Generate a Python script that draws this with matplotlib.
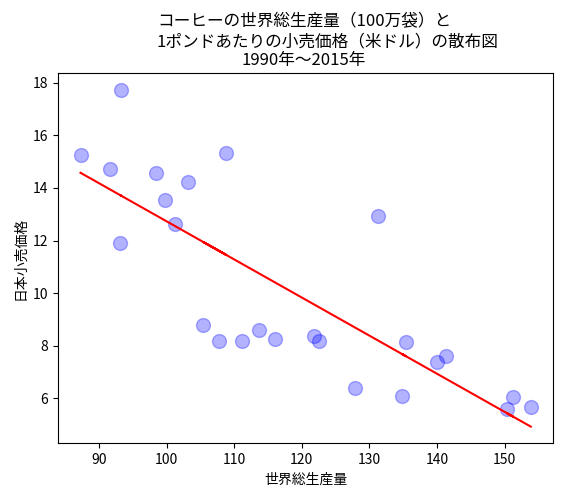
import numpy as np
import matplotlib
matplotlib.use("Agg")
import matplotlib.pyplot as plt

plt.rcParams['font.family'] = ['Noto Sans CJK JP', 'DejaVu Sans']

# world production (million bags) vs Japan retail price per pound (USD)
production = [87.28, 91.71, 93.29, 93.19, 98.51, 99.84, 101.31, 103.23, 108.85,
              105.45, 107.81, 111.17, 113.72, 116.09, 121.85, 122.59, 127.86,
              131.26, 135.39, 134.85, 140.02, 141.30, 151.24, 150.36, 153.86]
price = [15.25, 14.73, 17.72, 11.90, 14.56, 13.55, 12.63, 14.22, 15.34,
         8.77, 8.16, 8.16, 8.61, 8.24, 8.35, 8.18, 6.40,
         12.94, 8.13, 6.09, 7.36, 7.59, 6.05, 5.60, 5.67]

title_lines = ["コーヒーの世界総生産量（100万袋）と",
               "1ポンドあたりの小売価格（米ドル）の散布図",
               "1990年～2015年"]

x = np.array(production)
y = np.array(price)

fig = plt.figure(figsize=(5.62, 4.96), dpi=100)
ax = fig.add_axes([0.1032, 0.106, 0.8813, 0.746])

ax.scatter(x, y, s=100, c='blue', alpha=0.3)
fit = np.poly1d(np.polyfit(x, y, 1))
ax.plot(x, fit(x), color='red')

ax.set_xlabel("世界総生産量")
ax.set_ylabel("日本小売価格")

fig.text(157 / 562, 0.9476, title_lines[0], fontsize=12, va='baseline', ha='left')
fig.text(157 / 562, 0.9073, title_lines[1], fontsize=12, va='baseline', ha='left')
fig.text(304 / 562, 0.868, title_lines[2], fontsize=12, va='baseline', ha='center')

fig.savefig("out.png", dpi=100)
